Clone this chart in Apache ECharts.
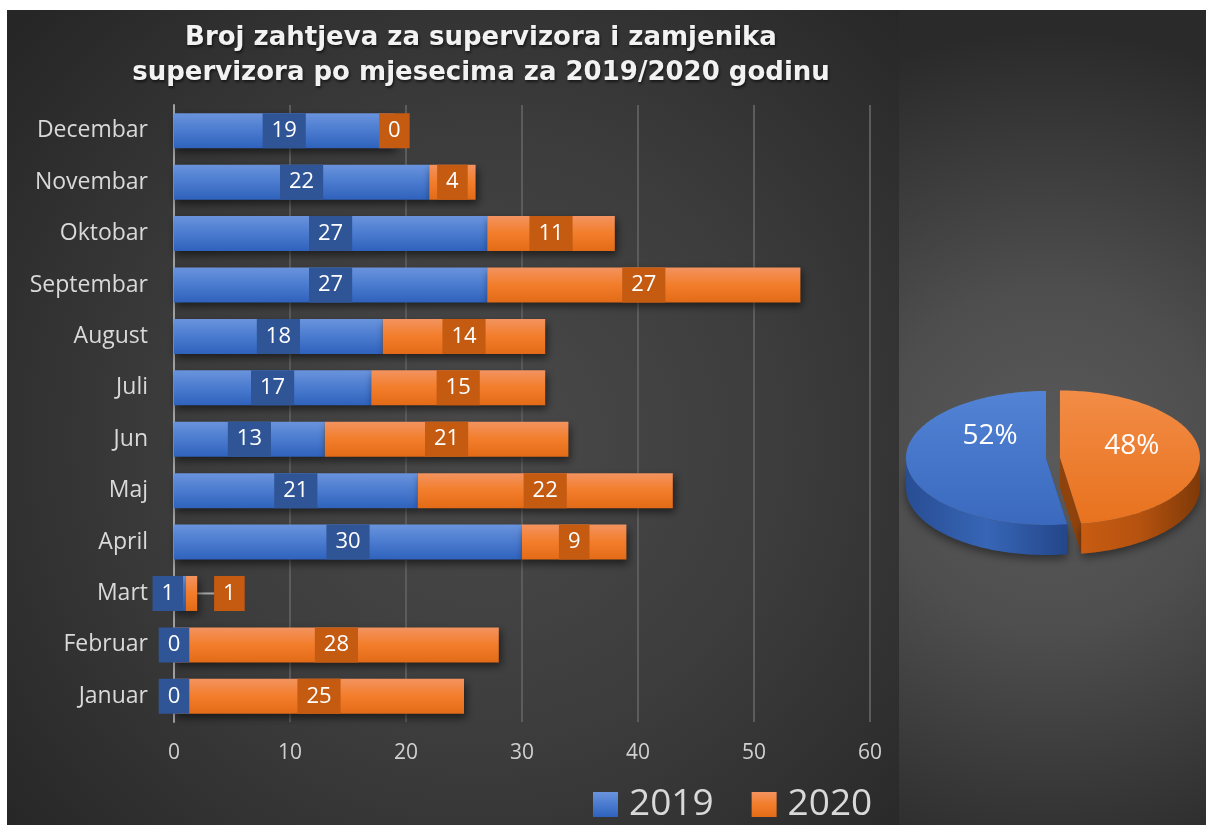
<!DOCTYPE html>
<html><head><meta charset="utf-8">
<script src="https://cdn.jsdelivr.net/npm/echarts@6/dist/echarts.min.js"></script>
<style>html,body{margin:0;padding:0;background:#fff}#c{width:1206px;height:825px}</style>
</head><body><div id="c"></div>
<script>
const titleText = 'Broj zahtjeva za supervizora i zamjenika\nsupervizora po mjesecima za 2019/2020 godinu';
const months = ['Januar','Februar','Mart','April','Maj','Jun','Juli','August','Septembar','Oktobar','Novembar','Decembar'];
const seriesNames = ['2019', '2020'];
const values2019 = [0, 0, 1, 30, 21, 13, 17, 18, 27, 27, 22, 19];
const values2020 = [25, 28, 1, 9, 22, 21, 15, 14, 27, 11, 4, 0];
const xMin = 0, xMax = 60, xInterval = 10;

const pieTotals = [values2019.reduce((a,b)=>a+b,0), values2020.reduce((a,b)=>a+b,0)];
const pieTotal = pieTotals[0] + pieTotals[1];

const FONT = '"Open Sans", "Noto Sans", sans-serif';
const martIdx = months.indexOf('Mart');

const PIE = {cx: 1046, cy: 458, rx: 140, ry: 67, depth: 30, explode: [0, 14]};
const pieStyle = [
  {top: ['#5283d5', '#3a69bd'], side: ['#284d93', '#3766b6', '#24468a'], cut: '#22407a', labelShift: [7, -6]},
  {top: ['#f28c46', '#e8721e'], side: ['#c85c12', '#b4520f', '#7e3908'], cut: '#8f420b', labelShift: [9, 9]}
];

function lg(x1,y1,x2,y2,stops){ return new echarts.graphic.LinearGradient(x1,y1,x2,y2,stops.map((c,i)=>({offset: stops.length===1?0:i/(stops.length-1), color:c}))); }

function renderPie(params, api) {
  const i = params.dataIndex;
  let start = 0;
  for (let k = 0; k < i; k++) start += pieTotals[k];
  const v = api.value(0);
  const a1 = Math.PI/2 + start/pieTotal*2*Math.PI;
  const a2 = Math.PI/2 + (start+v)/pieTotal*2*Math.PI;
  const mid = (a1+a2)/2;
  const off = PIE.explode[i] || 0;
  const cx = PIE.cx + off*Math.cos(mid);
  const cy = PIE.cy - off*Math.sin(mid)*PIE.ry/PIE.rx;
  const d = PIE.depth;
  const pt = (a, dy) => [cx + PIE.rx*Math.cos(a), cy - PIE.ry*Math.sin(a) + (dy||0)];
  const arc = (s, e, dy) => { const n = Math.max(2, Math.ceil((e-s)/0.02)); const r=[]; for (let j=0;j<=n;j++) r.push(pt(s+(e-s)*j/n, dy)); return r; };
  const st = pieStyle[i];
  const children = [];
  [a1, a2].forEach(a => {
    const p = pt(a);
    children.push({type:'polygon', shape:{points:[[cx,cy], p, [p[0],p[1]+d], [cx,cy+d]]}, style:{fill: st.cut}});
  });
  [[Math.PI, 2*Math.PI],[3*Math.PI, 4*Math.PI]].forEach(([fs, fe]) => {
    const s = Math.max(a1, fs), e = Math.min(a2, fe);
    if (e > s) {
      const top = arc(s, e, 0), bot = arc(s, e, d).reverse();
      children.push({type:'polygon', shape:{points: top.concat(bot)}, style:{fill: lg(0,0,1,0, st.side), shadowBlur: 10, shadowColor:'rgba(0,0,0,0.45)', shadowOffsetY: 4}});
    }
  });
  children.push({type:'polygon', shape:{points: [[cx,cy]].concat(arc(a1, a2, 0))}, style:{fill: lg(0,0,0,1, st.top)}});
  const lf = 0.45;
  children.push({type:'text', x: cx + PIE.rx*lf*Math.cos(mid) + st.labelShift[0], y: cy - PIE.ry*lf*Math.sin(mid) - 18 + st.labelShift[1],
    style:{text: Math.round(v/pieTotal*100) + '%', fill:'#ffffff', font: '28px ' + FONT, align:'center', verticalAlign:'middle'}});
  return {type:'group', children};
}

const chart = echarts.init(document.getElementById('c'), null, {renderer:'canvas'});
const barShadow = {shadowColor:'rgba(0,0,0,0.55)', shadowBlur: 8, shadowOffsetX: 2, shadowOffsetY: 4};
const labelBase = {show:true, position:'inside', color:'#ffffff', fontSize:22, fontFamily: FONT, lineHeight: 23, padding:[6,9]};

chart.setOption({
  backgroundColor: '#ffffff',
  animation: false,
  title: {
    text: titleText, left: 476, top: 16, textAlign: 'center',
    textStyle: {color:'#f2f2f2', fontSize: 26, fontWeight:'bold', fontFamily: '"DejaVu Sans", sans-serif', lineHeight: 35,
      textShadowColor:'rgba(0,0,0,0.6)', textShadowBlur: 3, textShadowOffsetX: 1, textShadowOffsetY: 2}
  },
  graphic: [
    {type:'rect', z:-100, silent:true, shape:{x:7, y:10, width:892, height:815},
      style:{fill:{type:'radial', x:480, y:440, r:620, global:true, colorStops:[{offset:0,color:'#4a4a4a'},{offset:0.5,color:'#3c3c3c'},{offset:1,color:'#262626'}]}}},
    {type:'rect', z:-100, silent:true, shape:{x:899, y:10, width:307, height:815},
      style:{fill:{type:'radial', x:1050, y:460, r:430, global:true, colorStops:[{offset:0,color:'#5a5a5a'},{offset:0.4,color:'#4e4e4e'},{offset:1,color:'#2a2a2a'}]}}}
  ],
  legend: {
    data: seriesNames, left: 593, top: 786, padding: 0, itemWidth: 25, itemHeight: 25, itemGap: 38, icon:'rect',
    textStyle: {color:'#d9d9d9', fontSize: 37, fontFamily: FONT, padding:[0,0,0,6]}
  },
  grid: {left: 174, right: 336, top: 105, bottom: 103, containLabel: false},
  xAxis: {
    type:'value', min: xMin, max: xMax, interval: xInterval,
    axisLine:{show:false}, axisTick:{show:false},
    splitLine:{show:true, lineStyle:{color:'#5c5c5c', width:2}},
    axisLabel:{color:'#d0d0d0', fontSize:21, fontFamily: FONT, margin: 21}
  },
  yAxis: {
    type:'category', data: months,
    axisLine:{show:true, lineStyle:{color:'#a0a0a0', width:2}}, axisTick:{show:false},
    axisLabel:{color:'#d9d9d9', fontSize:23, fontFamily: FONT, margin: 26}
  },
  series: [
    {
      name: seriesNames[0], type:'bar', stack:'total', barWidth: 35,
      data: values2019,
      itemStyle: Object.assign({color: lg(0,0,0,1,['#6a93dc','#4a7bcf','#2f62bc'])}, barShadow),
      label: Object.assign({backgroundColor:'#2f5597'}, labelBase),
      labelLayout: p => p.dataIndex === martIdx ? {dx: -12} : {},
      z: 2
    },
    {
      name: seriesNames[1], type:'bar', stack:'total', barWidth: 35,
      data: values2020.map((v, i) => i === martIdx ? {value: v, labelLine: {show: true}} : v),
      itemStyle: Object.assign({color: lg(0,0,0,1,['#f39360','#f27d2a','#e36b18'])}, barShadow),
      label: Object.assign({backgroundColor:'#c55a11'}, labelBase),
      labelLine: {show: false, lineStyle:{color:'#a6a6a6', width:2}},
      labelLayout: p => p.dataIndex === martIdx ? {dx: 38} : {},
      z: 2
    },
    {
      name: 'Ukupno', type:'custom', coordinateSystem:'none', silent: true,
      renderItem: renderPie,
      data: pieTotals.map(v => [v])
    }
  ]
});
</script></body></html>
